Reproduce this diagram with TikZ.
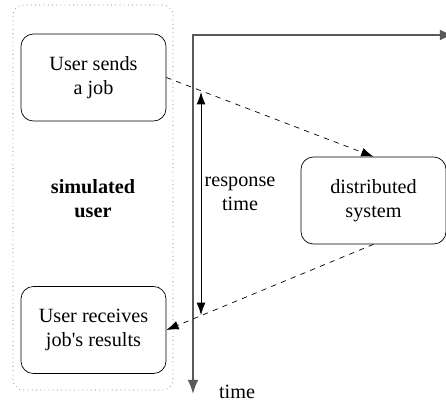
\documentclass[tikz,border=0pt]{standalone}
\usepackage{fontspec}
\setmainfont{Liberation Serif}
\usetikzlibrary{arrows.meta, positioning}

\begin{document}
\begin{tikzpicture}[x=0.02cm, y=-0.02cm, font=\fontsize{11.5}{13.6}\selectfont,
    stepbox/.style={rectangle, draw, rounded corners=7pt, align=center,
        minimum width=2.9cm, minimum height=1.74cm, inner sep=2pt},
    msg/.style={-{Latex[length=7pt, width=5pt]}, dashed, thin}]
    \useasboundingbox (0,0) rectangle (446,403);

    % simulated user
    \node[rectangle, draw=gray!80!black, dotted, rounded corners=6pt,
        minimum width=3.2cm, minimum height=7.7cm] (simuser) at (93,197.5) {};
    \node[font=\fontsize{11.5}{13.6}\selectfont\bfseries, align=center] (simlabel) at (93,199) {simulated\\user};
    \node[stepbox] (sendjob) at (93.5,77.5) {User sends\\a job};
    \node[stepbox] (receive) at (93.5,330) {User receives\\job\textquotesingle s results};

    % distributed system
    \node[stepbox] (dist) at (373.5,200.5) {distributed\\system};

    % time axis
    \coordinate (origin) at (193,35);
    \coordinate (xend) at (454,35);
    \coordinate (yend) at (193,394);
    \draw[{Latex[length=8pt, width=6pt]}-{Latex[length=8pt, width=6pt]}, line width=0.9pt, gray!70!black]
        (xend) -- (origin) -- (yend);
    \node (tlabel) at (237,392) {time};

    % response time
    \coordinate (rtop) at (201,92);
    \coordinate (rbot) at (201,315);
    \draw[{Latex[length=7pt, width=5pt]}-{Latex[length=7pt, width=5pt]}] (rtop) -- (rbot);
    \node[align=center] (rlabel) at (240,194) {response\\time};

    % messages
    \draw[msg] (sendjob.east) -- (dist.north);
    \draw[msg] (dist.south) -- (receive.east);
\end{tikzpicture}
\end{document}
